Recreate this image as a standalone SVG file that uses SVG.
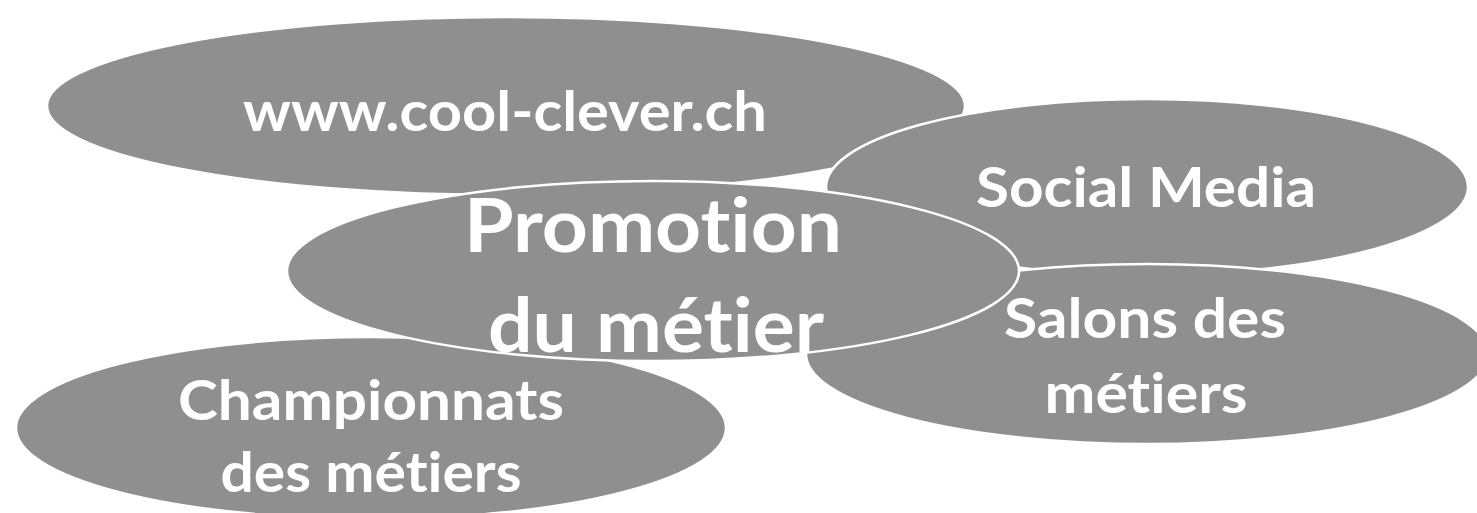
<svg xmlns="http://www.w3.org/2000/svg" width="1477" height="513" viewBox="0 0 1477 513">
<style>
.bubble{fill:#8f8f8f;stroke:#ffffff;stroke-width:2.5}
.lbl{font-family:Lato,"Open Sans","Liberation Sans",sans-serif;font-weight:bold;fill:#ffffff;text-anchor:middle;font-variant-ligatures:none;font-feature-settings:"liga" 0,"clig" 0}
.s{font-size:56px}
.b{font-size:75px}
</style>
<rect width="1477" height="513" fill="#ffffff"/>
<g id="connectors"></g>
<g id="node-www">
<ellipse class="bubble" cx="506" cy="106" rx="459" ry="89"/>
</g>
<g id="node-social">
<ellipse class="bubble" cx="1147" cy="187" rx="321" ry="88"/>
</g>
<g id="node-championnats">
<ellipse class="bubble" cx="371" cy="428" rx="355" ry="91"/>
</g>
<g id="node-salons">
<ellipse class="bubble" cx="1147" cy="354" rx="341" ry="90"/>
</g>
<g id="node-promotion">
<ellipse class="bubble" cx="653" cy="271" rx="366" ry="90"/>
</g>
<g id="labels">
<text class="lbl s" x="505" y="131" textLength="524" lengthAdjust="spacingAndGlyphs">www.cool-clever.ch</text>
<text class="lbl s" x="1146" y="207" textLength="340" lengthAdjust="spacingAndGlyphs">Social Media</text>
<text class="lbl s" x="1145" y="338" textLength="282" lengthAdjust="spacingAndGlyphs">Salons des</text>
<text class="lbl s" x="1146" y="413" textLength="203" lengthAdjust="spacingAndGlyphs">métiers</text>
<text class="lbl s" x="371" y="420" textLength="386" lengthAdjust="spacingAndGlyphs">Championnats</text>
<text class="lbl s" x="371" y="492" textLength="301" lengthAdjust="spacingAndGlyphs">des métiers</text>
<text class="lbl b" x="653" y="252" textLength="378" lengthAdjust="spacingAndGlyphs">Promotion</text>
<text class="lbl b" x="656" y="352" textLength="336" lengthAdjust="spacingAndGlyphs">du métier</text>
</g>
</svg>
